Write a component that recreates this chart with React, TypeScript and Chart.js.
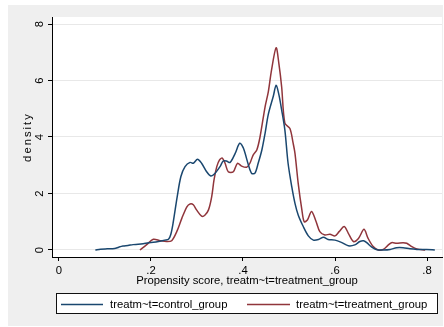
import React, { useEffect, useRef } from 'react';
import { Chart, registerables } from 'chart.js';

Chart.register(...registerables);

// ---- data ----
const CONTROL_X = [
  0.079, 0.09, 0.105, 0.121, 0.13, 0.139, 0.15, 0.161, 0.172, 0.183, 0.195, 0.205, 0.219, 0.23, 0.238,
  0.243, 0.248, 0.257, 0.265, 0.274, 0.285, 0.292, 0.301, 0.31, 0.321, 0.33, 0.339, 0.35, 0.357, 0.364,
  0.372, 0.383, 0.393, 0.401, 0.412, 0.419, 0.426, 0.433, 0.441, 0.448, 0.455, 0.466, 0.472, 0.478,
  0.484, 0.491, 0.498, 0.506, 0.513, 0.52, 0.531, 0.542, 0.553, 0.564, 0.575, 0.585, 0.6, 0.615, 0.629,
  0.643, 0.654, 0.662, 0.669, 0.68, 0.691, 0.705, 0.72, 0.734, 0.748, 0.763, 0.778, 0.799, 0.817,
];
const CONTROL_Y = [
  0, 0.03, 0.04, 0.05, 0.1, 0.14, 0.16, 0.19, 0.2, 0.22, 0.26, 0.27, 0.31, 0.35, 0.38,
  0.55, 0.95, 1.89, 2.6, 2.95, 3.1, 3.07, 3.21, 3.07, 2.77, 2.62, 2.71, 2.95, 3.15, 3.15,
  3.1, 3.42, 3.78, 3.6, 3.0, 2.71, 2.72, 3.07, 3.54, 4.13, 4.8, 5.45, 5.83, 5.5,
  4.96, 4.25, 3.07, 2.24, 1.65, 1.24, 0.83, 0.5, 0.35, 0.37, 0.45, 0.37, 0.35, 0.26, 0.15,
  0.18, 0.3, 0.33, 0.26, 0.1, 0.01, 0, 0.02, 0.08, 0.08, 0.04, 0.02, 0.02, 0,
];
const TREAT_X = [
  0.176, 0.19, 0.205, 0.22, 0.234, 0.245, 0.256, 0.267, 0.278, 0.285, 0.292, 0.299, 0.31, 0.317, 0.325,
  0.332, 0.337, 0.343, 0.349, 0.355, 0.361, 0.368, 0.379, 0.388, 0.397, 0.408, 0.415, 0.422, 0.43, 0.437,
  0.448, 0.455, 0.462, 0.472, 0.478, 0.484, 0.491, 0.502, 0.509, 0.513, 0.52, 0.528, 0.533, 0.54, 0.549,
  0.559, 0.567, 0.578, 0.589, 0.6, 0.609, 0.62, 0.629, 0.64, 0.651, 0.663, 0.672, 0.683, 0.694, 0.705,
  0.716, 0.723, 0.734, 0.748, 0.756, 0.767, 0.778, 0.796,
];
const TREAT_Y = [
  0, 0.18, 0.38, 0.33, 0.3, 0.33, 0.65, 1.12, 1.53, 1.63, 1.6, 1.42, 1.2, 1.23, 1.42,
  1.89, 2.48, 2.95, 3.19, 3.25, 3.07, 2.77, 2.77, 3.07, 2.97, 2.93, 3.07, 3.36, 3.54, 4.0,
  5.07, 5.6, 6.37, 7.16, 6.6, 5.78, 4.49, 4.3, 3.78, 3.42, 2.36, 1.42, 1.0, 1.06, 1.36,
  1.0, 0.65, 0.53, 0.56, 0.5, 0.65, 0.83, 0.59, 0.3, 0.41, 0.73, 0.41, 0.12, 0, 0.02,
  0.18, 0.26, 0.24, 0.26, 0.24, 0.12, 0.04, 0,
];
const SERIES_LABELS = ['treatm~t=control_group', 'treatm~t=treatment_group'];
const SERIES_COLORS = ['#1a476f', '#90353b'];
const X_TICKS = [0, 0.2, 0.4, 0.6, 0.8];
const X_TICK_LABELS = ['0', '.2', '.4', '.6', '.8'];
const Y_TICKS = [0, 2, 4, 6, 8];
const Y_TICK_LABELS = ['0', '2', '4', '6', '8'];
const X_TITLE = 'Propensity score, treatm~t=treatment_group';
const Y_TITLE = 'density';

const FONT = { family: '"Liberation Sans", Arial, sans-serif', size: 11.3 };
const FONT_STR = '11.3px "Liberation Sans", Arial, sans-serif';

const toPoints = (xs: number[], ys: number[]) => xs.map((x, i) => ({ x, y: ys[i] }));

const backgroundPlugin = {
  id: 'stataBackground',
  beforeDraw(chart: any) {
    const { ctx, chartArea } = chart;
    ctx.save();
    ctx.fillStyle = '#ffffff';
    ctx.fillRect(0, 0, chart.width, chart.height);
    ctx.fillStyle = '#efefef';
    ctx.fillRect(8, 5, 435, 321);
    ctx.fillStyle = '#ffffff';
    ctx.fillRect(chartArea.left, chartArea.top, chartArea.right - chartArea.left, chartArea.bottom - chartArea.top);
    ctx.restore();
    const ys = chart.scales.y;
    if (ys && !ys.__spaced) {
      const orig = ys.drawTitle.bind(ys);
      ys.drawTitle = (...args: any[]) => {
        const c = ys.ctx;
        c.save();
        c.letterSpacing = '2px';
        orig(...args);
        c.restore();
      };
      ys.__spaced = true;
    }
  },
};

const legendPlugin = {
  id: 'stataLegend',
  afterDraw(chart: any) {
    const ctx = chart.ctx;
    ctx.save();
    ctx.fillStyle = '#ffffff';
    ctx.fillRect(56, 293, 381, 20);
    ctx.strokeStyle = '#111';
    ctx.lineWidth = 1;
    ctx.strokeRect(56.5, 293.5, 381, 20);
    const slots = [
      { x0: 61, x1: 103, tx: 110 },
      { x0: 247, x1: 290, tx: 296 },
    ];
    chart.data.datasets.forEach((ds: any, i: number) => {
      const s = slots[i];
      const y = 304.5;
      ctx.strokeStyle = ds.borderColor;
      ctx.lineWidth = 1.5;
      ctx.beginPath();
      ctx.moveTo(s.x0, y);
      ctx.lineTo(s.x1, y);
      ctx.stroke();
      ctx.fillStyle = '#000';
      ctx.font = FONT_STR;
      ctx.textBaseline = 'middle';
      ctx.textAlign = 'left';
      ctx.fillText(ds.label, s.tx, y);
    });
    ctx.restore();
  },
};

export default function App() {
  const ref = useRef<HTMLCanvasElement | null>(null);

  useEffect(() => {
    if (!ref.current) return;
    const chart = new Chart(ref.current, {
      type: 'line',
      data: {
        datasets: [
          {
            label: SERIES_LABELS[0],
            data: toPoints(CONTROL_X, CONTROL_Y),
            borderColor: SERIES_COLORS[0],
            borderWidth: 1.5,
            pointRadius: 0,
            tension: 0.3,
            fill: false,
          },
          {
            label: SERIES_LABELS[1],
            data: toPoints(TREAT_X, TREAT_Y),
            borderColor: SERIES_COLORS[1],
            borderWidth: 1.5,
            pointRadius: 0,
            tension: 0.3,
            fill: false,
          },
        ],
      },
      options: {
        animation: false,
        responsive: false,
        devicePixelRatio: 1,
        events: [],
        layout: { padding: { left: 0, top: 17, right: 2, bottom: 39 } },
        plugins: { legend: { display: false }, tooltip: { enabled: false } },
        scales: {
          x: {
            type: 'linear',
            min: -0.0152,
            max: 0.8326,
            afterBuildTicks: (s: any) => {
              s.ticks = X_TICKS.map((v) => ({ value: v }));
            },
            afterFit: (s: any) => {
              s.height = 31;
            },
            ticks: {
              callback: (_v: any, i: number) => X_TICK_LABELS[i],
              font: FONT,
              color: '#000',
              padding: 3,
              maxRotation: 0,
              autoSkip: false,
            },
            grid: { drawOnChartArea: false, tickLength: 4, tickColor: '#000', tickWidth: 1 },
            border: { color: '#000', width: 1 },
            title: { display: true, text: X_TITLE, font: FONT, color: '#000', padding: { top: 0, bottom: 0 } },
          },
          y: {
            type: 'linear',
            min: -0.248,
            max: 8.248,
            afterBuildTicks: (s: any) => {
              s.ticks = Y_TICKS.map((v) => ({ value: v }));
            },
            afterFit: (s: any) => {
              s.width = 52;
            },
            ticks: {
              callback: (_v: any, i: number) => Y_TICK_LABELS[i],
              font: FONT,
              color: '#000',
              padding: 5,
              minRotation: 90,
              maxRotation: 90,
              crossAlign: 'center',
              autoSkip: false,
            },
            grid: { color: '#e8e8e8', lineWidth: 1, tickLength: 4, tickColor: '#000', tickWidth: 1 },
            border: { color: '#000', width: 1 },
            title: { display: true, text: Y_TITLE, font: FONT, color: '#000', padding: { top: 21, bottom: 0 } },
          },
        },
      },
      plugins: [backgroundPlugin, legendPlugin],
    } as any);
    return () => chart.destroy();
  }, []);

  return (
    <div style={{ position: 'fixed', left: 0, top: 0, width: 444, height: 327 }}>
      <canvas ref={ref} width={444} height={327} style={{ width: 444, height: 327, display: 'block' }} />
    </div>
  );
}
